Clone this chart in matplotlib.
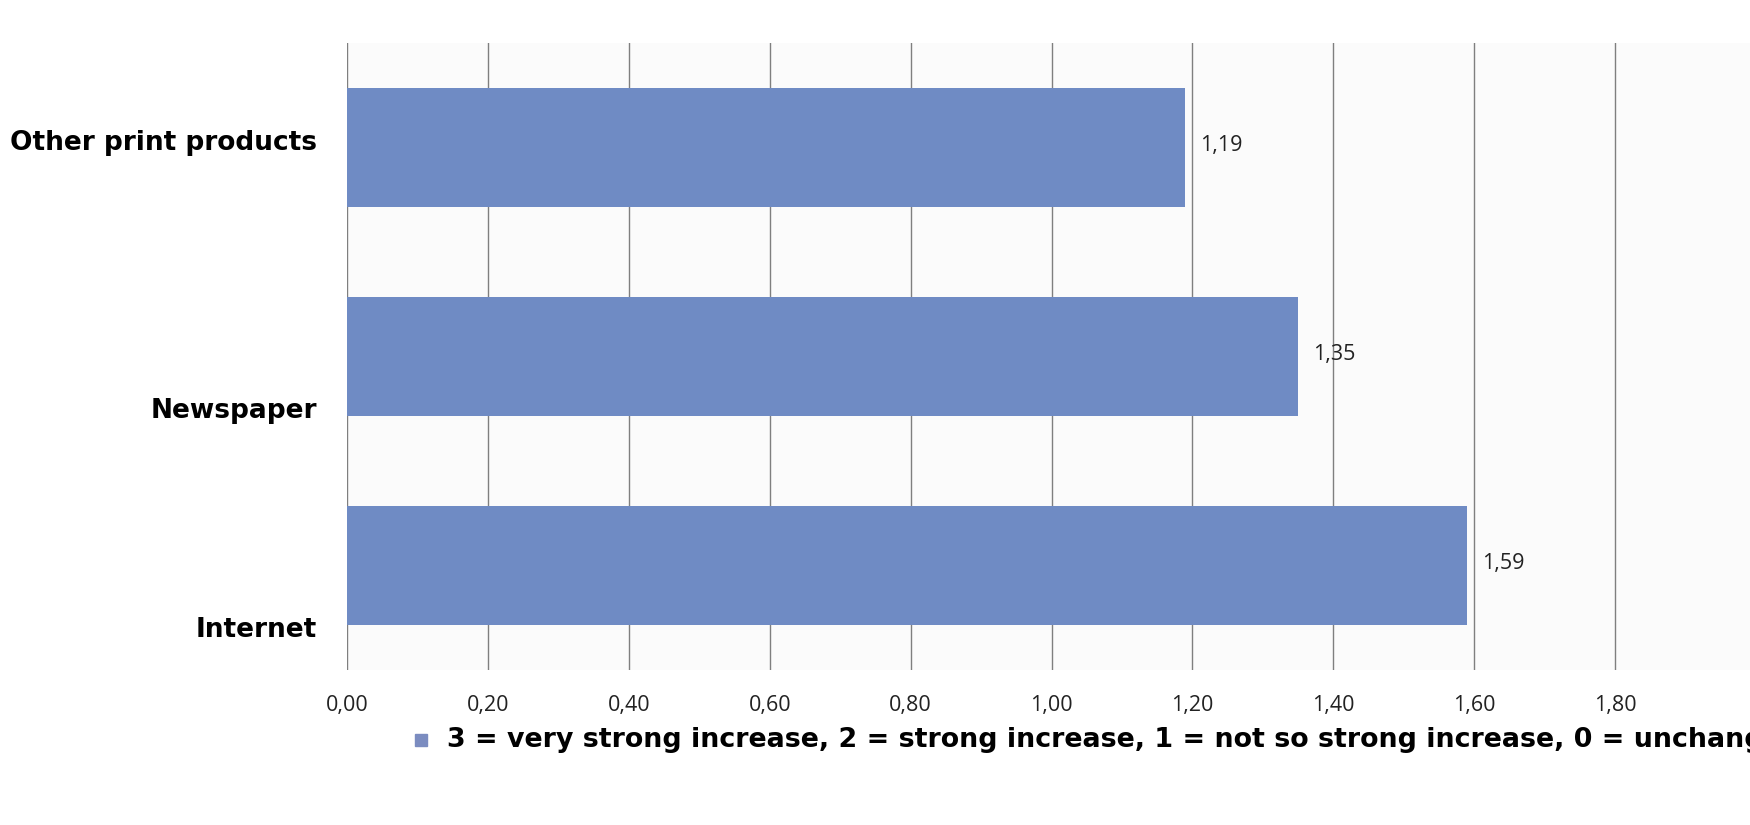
import matplotlib.pyplot as plt

categories = ['Other print products', 'Newspaper', 'Internet']
values = [1.19, 1.35, 1.59]
xticks = [0.0, 0.2, 0.4, 0.6, 0.8, 1.0, 1.2, 1.4, 1.6, 1.8]
legend_text = ('3 = very strong increase, 2 = strong increase, '
               '1 = not so strong increase, 0 = unchanged')

bar_color = '#6f8bc4'
W, H = 1750, 825

fig = plt.figure(figsize=(W / 100, H / 100), dpi=100, facecolor='white')
# axes box in pixel terms: x from 347 to the right edge, y from 43 to 672
ax = fig.add_axes([347 / W, 1 - 670 / H, 1 - 347 / W, (670 - 43) / H])
ax.set_facecolor('#fbfbfb')

pos = list(range(len(categories)))
ax.barh(pos, values, height=0.57, color=bar_color, zorder=2)
ax.set_xlim(0, (W - 347) / 704.5)
ax.set_ylim(2.5, -0.5)

# vertical grid lines
for t in xticks:
    ax.axvline(t, color='#7f7f7f', lw=1.0, zorder=1)
for s in ax.spines.values():
    s.set_visible(False)

ax.set_xticks(xticks)
ax.set_xticklabels([f'{t:.2f}'.replace('.', ',') for t in xticks],
                   fontsize=15.5, family='Open Sans', color='#222222')
ax.tick_params(axis='x', length=0, pad=18)
ax.set_yticks([])

# category names sit a little low next to the lower bars
label_shift = [-0.02, 0.26, 0.31]
for i, (name, dy) in enumerate(zip(categories, label_shift)):
    ax.text(-30 / 704.5, i + dy, name, ha='right', va='center',
            fontsize=19, fontweight='bold', family='DejaVu Sans', color='black')

# value labels at the bar ends
for i, v in enumerate(values):
    ax.text(v + 15 / 704.5, i - 0.01, f'{v:.2f}'.replace('.', ','),
            ha='left', va='center', fontsize=15.5, family='Open Sans',
            color='#222222')

# legend: small square and bold caption, running off the right edge
fig.patches.append(plt.Rectangle((415 / W, 1 - 746 / H), 12 / W, 12 / H,
                                 transform=fig.transFigure, color='#7b8cc0'))
fig.text(447 / W, 1 - 740 / H, legend_text, ha='left', va='center',
         fontsize=19.4, fontweight='bold', family='DejaVu Sans', color='black')

fig.savefig('out.png', dpi=100, facecolor=fig.get_facecolor())
